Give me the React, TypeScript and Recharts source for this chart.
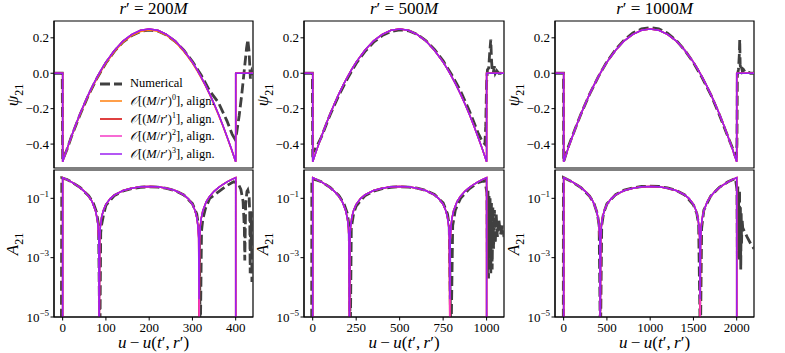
import React from 'react'
import { LineChart, Line, XAxis, YAxis, ReferenceArea } from 'recharts'

const SERIF = '"Liberation Serif", "DejaVu Serif", "Times New Roman", serif'
const NUM_COLOR = '#404040'
const ORDER_COLORS = ['#ff7f0e', '#d40000', '#f53ac6', '#9b1ff0']

// analytic waveform, u given as a fraction of the window (0..1)
const psiFrac = [0, 0.025, 0.05, 0.075, 0.1, 0.125, 0.15, 0.175, 0.2, 0.225, 0.25, 0.3, 0.35, 0.4, 0.45, 0.5,
  0.55, 0.6, 0.65, 0.7, 0.75, 0.775, 0.8, 0.825, 0.85, 0.875, 0.9, 0.925, 0.95, 0.975, 1]
const psiAnalytic = [-0.5, -0.427, -0.358, -0.292, -0.23, -0.172, -0.118, -0.067, -0.02, 0.023, 0.063, 0.13, 0.183, 0.22, 0.243, 0.25,
  0.243, 0.22, 0.183, 0.13, 0.063, 0.023, -0.02, -0.067, -0.118, -0.172, -0.23, -0.292, -0.358, -0.427, -0.5]
// order 0 sits slightly low for r' = 200M
const psiOrder0Near = [-0.5, -0.43, -0.362, -0.297, -0.236, -0.178, -0.124, -0.073, -0.027, 0.016, 0.056, 0.123, 0.176, 0.213, 0.236, 0.244,
  0.237, 0.214, 0.177, 0.124, 0.057, 0.017, -0.026, -0.072, -0.123, -0.177, -0.235, -0.296, -0.361, -0.43, -0.5]

const ampFrac = [0, 0.025, 0.05, 0.075, 0.1, 0.125, 0.15, 0.17, 0.19, 0.2, 0.205, 0.209, 0.2113, 0.214, 0.218, 0.225, 0.235, 0.25, 0.275, 0.3, 0.35, 0.4, 0.45,
  0.5,
  0.55, 0.6, 0.65, 0.7, 0.725, 0.75, 0.765, 0.775, 0.782, 0.786, 0.7887, 0.791, 0.795, 0.8, 0.81, 0.83, 0.85, 0.875, 0.9, 0.925, 0.95, 0.975, 1]
const ampAnalytic = [0.5, 0.427, 0.358, 0.292, 0.23, 0.172, 0.118, 0.077, 0.038, 0.02, 0.011, 0.004, 1e-6, 0.0046, 0.0114, 0.023, 0.039, 0.063, 0.098, 0.13, 0.183, 0.22, 0.243,
  0.25,
  0.243, 0.22, 0.183, 0.13, 0.098, 0.063, 0.039, 0.023, 0.0114, 0.0046, 1e-6, 0.004, 0.011, 0.02, 0.038, 0.077, 0.118, 0.172, 0.23, 0.292, 0.358, 0.427, 0.5]
const ampOrder3 = [0.5, 0.427, 0.358, 0.292, 0.23, 0.172, 0.118, 0.077, 0.038, 0.02, 0.011, 0.004, 1e-6, 0.0046, 0.0114, 0.023, 0.039, 0.063, 0.098, 0.13, 0.183, 0.22, 0.243,
  0.25,
  0.243, 0.22, 0.183, 0.13, 0.098, 0.063, 0.039, 0.023, 0.0114, 0.0046, 4e-5, 0.004, 0.011, 0.02, 0.038, 0.077, 0.118, 0.172, 0.23, 0.292, 0.358, 0.427, 0.5]

// numerical waveform, r' = 200M
const num200U = [-20, -1, 0, 10, 20, 40, 60, 80, 100, 120, 140, 160, 180, 200, 220, 240, 260, 280, 300, 320,
  340, 360, 380, 392, 398, 402, 408, 414, 420, 425, 428, 431, 434, 437, 440]
const num200Psi = [0, 0, -0.49, -0.43, -0.36, -0.235, -0.122, -0.025, 0.058, 0.125, 0.177, 0.213, 0.236, 0.244, 0.238, 0.216, 0.18, 0.13, 0.066, -0.01,
  -0.1, -0.165, -0.27, -0.345, -0.37, -0.34, -0.24, -0.12, 0.02, 0.14, 0.19, 0.12, -0.03, 0.01, -0.01]
const num200AmpU = [-3, -2, 10, 20, 40, 60, 70, 78, 83, 86, 88, 90, 95, 100, 120, 140, 160, 180, 200, 220,
  240, 260, 280, 300, 310, 316, 318, 321, 324, 330, 340, 360, 380, 395, 405, 412, 417, 420, 421, 423,
  426, 428, 431, 432.5, 433.5, 434.5, 435.5, 436.5, 437.5, 438.5, 440]
const num200Amp = [1e-6, 0.49, 0.43, 0.36, 0.235, 0.122, 0.075, 0.035, 0.013, 1e-6, 0.007, 0.013, 0.03, 0.058, 0.125, 0.177, 0.213, 0.236, 0.244, 0.238,
  0.216, 0.18, 0.13, 0.066, 0.03, 0.008, 1e-6, 0.008, 0.02, 0.045, 0.1, 0.165, 0.27, 0.36, 0.33, 0.2, 0.08, 0.01, 8e-4, 0.06,
  0.17, 0.19, 0.12, 0.03, 3e-4, 0.04, 0.002, 0.035, 1.5e-4, 0.02, 0.001]

// numerical waveform, r' = 500M
const num500U = [-50, -2, 0, 25, 50, 100, 150, 200, 250, 300, 350, 400, 450, 500, 550, 600, 650, 700, 750, 800,
  850, 900, 950, 975, 990, 995, 1000, 1005, 1012, 1018, 1024, 1028, 1032, 1038, 1044, 1050, 1058, 1070, 1100]
const num500Psi = [0, 0, -0.45, -0.41, -0.36, -0.235, -0.125, -0.03, 0.055, 0.122, 0.175, 0.213, 0.236, 0.245, 0.24, 0.22, 0.185, 0.135, 0.07, -0.01,
  -0.1, -0.21, -0.335, -0.385, -0.4, -0.3, -0.05, 0.02, 0.03, 0.12, 0.19, 0.08, 0.02, 0, 0.04, 0, 0.015, 0, 0]
const num500AmpU = [-6, -5, 25, 50, 100, 150, 180, 200, 210, 216, 222, 235, 250, 300, 350, 400, 450, 500, 550, 600,
  650, 700, 750, 775, 785, 795, 805, 820, 850, 900, 950, 990, 1002, 1005, 1008, 1011, 1014, 1017, 1020, 1024,
  1028, 1032, 1036, 1040, 1045, 1050, 1055, 1062, 1070, 1080, 1090, 1100]
const num500Amp = [1e-6, 0.45, 0.41, 0.36, 0.235, 0.125, 0.065, 0.03, 0.01, 1e-6, 0.01, 0.03, 0.055, 0.122, 0.175, 0.213, 0.236, 0.245, 0.24, 0.22,
  0.185, 0.135, 0.07, 0.03, 0.012, 1e-6, 0.012, 0.04, 0.1, 0.21, 0.335, 0.4, 0.15, 3e-4, 0.18, 2e-4, 0.12, 5e-4, 0.1, 3e-4,
  0.07, 4e-4, 0.05, 0.002, 0.04, 0.003, 0.03, 0.005, 0.02, 0.006, 0.012, 0.005]

// numerical waveform, r' = 1000M
const num1000U = [-100, -2, 0, 50, 100, 200, 300, 400, 500, 600, 700, 800, 900, 1000, 1100, 1200, 1300, 1400, 1500, 1600,
  1700, 1800, 1900, 1950, 1985, 1995, 2003, 2008, 2020, 2030, 2035, 2040, 2048, 2056, 2066, 2080, 2100, 2130, 2160, 2200]
const num1000Psi = [0, 0, -0.5, -0.42, -0.355, -0.23, -0.118, -0.02, 0.065, 0.133, 0.188, 0.227, 0.25, 0.258, 0.25, 0.226, 0.186, 0.13, 0.06, -0.025,
  -0.12, -0.235, -0.36, -0.42, -0.47, -0.47, -0.4, -0.01, 0.02, 0.1, 0.19, 0.05, 0.02, 0.035, 0.01, 0.02, 0.005, 0.008, 0, 0]
const num1000AmpU = [-4, -3, 100, 200, 300, 350, 390, 410, 425, 440, 460, 500, 600, 700, 800, 900, 1000, 1100, 1200, 1300,
  1400, 1500, 1540, 1560, 1580, 1595, 1620, 1700, 1800, 1900, 1985, 2003, 2008, 2013, 2018, 2023, 2028, 2033, 2038, 2043,
  2047, 2052, 2056, 2062, 2070, 2120, 2160, 2200]
const num1000Amp = [1e-6, 0.5, 0.355, 0.23, 0.118, 0.068, 0.03, 0.012, 1e-6, 0.012, 0.03, 0.065, 0.133, 0.188, 0.227, 0.25, 0.258, 0.25, 0.226, 0.186,
  0.13, 0.06, 0.03, 0.013, 1e-6, 0.01, 0.04, 0.12, 0.235, 0.36, 0.47, 0.2, 0.001, 0.25, 0.002, 0.15, 8e-4, 0.19, 0.001, 0.05,
  4e-4, 0.035, 0.003, 0.02, 0.01, 0.005, 0.003, 0.002]

const psiTicks = [-0.4, -0.2, 0, 0.2]
const ampTicks = [1e-5, 1e-3, 1e-1]
const PSI_DOMAIN = [-0.535, 0.295]
const AMP_DOMAIN = [1e-5, 0.9]

const legendLabels = ['Numerical', '0', '1', '2', '3']

type Pt = { u: number; v: number }
const zip = (us: number[], vs: number[]): Pt[] => us.map((u, i) => ({ u, v: vs[i] }))

const psiRows = (span: number, x: number[], vals: number[]): Pt[] => [
  { u: x[0], v: 0 },
  { u: 0, v: 0 },
  ...psiFrac.map((f, i) => ({ u: f * span, v: vals[i] })),
  { u: span, v: 0 },
  { u: x[1], v: 0 }
]
const ampRows = (span: number, vals: number[]): Pt[] => [
  { u: 0, v: 1e-6 },
  ...ampFrac.map((f, i) => ({ u: f * span, v: vals[i] })),
  { u: span, v: 1e-6 }
]

const panels = [
  {
    label: '200', span: 400, xDomain: [-20, 440], xTicks: [0, 100, 200, 300, 400],
    plotLeft: 54, plotWidth: 199,
    numPsi: zip(num200U, num200Psi), numAmp: zip(num200AmpU, num200Amp), order0: psiOrder0Near
  },
  {
    label: '500', span: 1000, xDomain: [-50, 1100], xTicks: [0, 250, 500, 750, 1000],
    plotLeft: 304, plotWidth: 200,
    numPsi: zip(num500U, num500Psi), numAmp: zip(num500AmpU, num500Amp), order0: psiAnalytic
  },
  {
    label: '1000', span: 2000, xDomain: [-100, 2200], xTicks: [0, 500, 1000, 1500, 2000],
    plotLeft: 555, plotWidth: 199,
    numPsi: zip(num1000U, num1000Psi), numAmp: zip(num1000AmpU, num1000Amp), order0: psiAnalytic
  }
]

const TOP_ROW = { top: 21, height: 147 }
const BOTTOM_ROW = { top: 170, height: 147 }
const Y_AXIS_W = 50
const PAD = 4
const X_AXIS_H = 16

const tickStyle = { fill: '#000', fontSize: 13, fontFamily: SERIF }

const LogTick = (props: any) => {
  const { x, y, payload } = props
  const exp = Math.round(Math.log10(payload.value))
  return (
    <text x={x} y={y} dy={4.5} textAnchor="end" fill="#000" fontFamily={SERIF} fontSize={13}>
      <tspan>10</tspan>
      <tspan dy={-6} fontSize={9}>{(exp < 0 ? '\u2212' : '') + Math.abs(exp)}</tspan>
    </text>
  )
}

const fmtPsi = (v: number) => v.toFixed(1).replace('-', '\u2212')

type Series = { data: Pt[]; color: string; width: number; dash?: string }

function Panel({ left, top, width, height, xDomain, xTicks, log, series }: {
  left: number; top: number; width: number; height: number
  xDomain: number[]; xTicks: number[]; log: boolean; series: Series[]
}) {
  const yDomain = log ? AMP_DOMAIN : PSI_DOMAIN
  return (
    <div style={{ position: 'absolute', left: left - Y_AXIS_W, top: top - PAD }}>
      <LineChart
        width={Y_AXIS_W + width + PAD}
        height={PAD + height + (log ? X_AXIS_H : 0) + PAD}
        margin={{ top: PAD, right: PAD, bottom: PAD, left: 0 }}
      >
        <XAxis
          type="number"
          dataKey="u"
          domain={xDomain}
          ticks={xTicks}
          allowDataOverflow
          hide={!log}
          height={X_AXIS_H}
          tick={tickStyle}
          tickSize={3.5}
          tickMargin={2}
          axisLine={{ stroke: '#000' }}
          tickLine={{ stroke: '#000' }}
        />
        {log ? (
          <YAxis
            type="number"
            scale="log"
            domain={yDomain}
            ticks={ampTicks}
            allowDataOverflow
            width={Y_AXIS_W}
            tick={<LogTick />}
            tickSize={3.5}
            tickMargin={1.5}
            axisLine={{ stroke: '#000' }}
            tickLine={{ stroke: '#000' }}
          />
        ) : (
          <YAxis
            type="number"
            domain={yDomain}
            ticks={psiTicks}
            allowDataOverflow
            width={Y_AXIS_W}
            tick={tickStyle}
            tickFormatter={fmtPsi}
            tickSize={3.5}
            tickMargin={1.5}
            axisLine={{ stroke: '#000' }}
            tickLine={{ stroke: '#000' }}
          />
        )}
        {series.map((s, i) => (
          <Line
            key={i}
            data={s.data}
            dataKey="v"
            type="linear"
            dot={false}
            activeDot={false}
            stroke={s.color}
            strokeWidth={s.width}
            strokeDasharray={s.dash}
            isAnimationActive={false}
          />
        ))}
        <ReferenceArea
          x1={xDomain[0]}
          x2={xDomain[1]}
          y1={yDomain[0]}
          y2={yDomain[1]}
          fill="none"
          stroke="#000"
          strokeWidth={1.2}
          ifOverflow="visible"
        />
      </LineChart>
    </div>
  )
}

const OrderLabel = ({ n }: { n: string }) => (
  <span>
    <i>𝒪</i>[(<i>M</i>/<i>r</i>′)<sup style={{ fontSize: 8 }}>{n}</sup>], align.
  </span>
)

export default function App() {
  return (
    <div style={{ position: 'absolute', left: 0, top: 0, width: 785, height: 353, background: '#fff', fontFamily: SERIF, color: '#000' }}>
      {panels.map((p) => {
        const x = [p.xDomain[0], p.xDomain[1]]
        const topSeries: Series[] = [
          { data: p.numPsi, color: NUM_COLOR, width: 2.8, dash: '10 4' },
          { data: psiRows(p.span, x, p.order0), color: ORDER_COLORS[0], width: 1.5 },
          { data: psiRows(p.span, x, psiAnalytic), color: ORDER_COLORS[1], width: 1.5 },
          { data: psiRows(p.span, x, psiAnalytic), color: ORDER_COLORS[2], width: 1.5 },
          { data: psiRows(p.span, x, psiAnalytic), color: ORDER_COLORS[3], width: 1.5 }
        ]
        const bottomSeries: Series[] = [
          { data: p.numAmp, color: NUM_COLOR, width: 2.8, dash: '10 4' },
          { data: ampRows(p.span, ampAnalytic), color: ORDER_COLORS[0], width: 1.5 },
          { data: ampRows(p.span, ampAnalytic), color: ORDER_COLORS[1], width: 1.5 },
          { data: ampRows(p.span, ampAnalytic), color: ORDER_COLORS[2], width: 1.5 },
          { data: ampRows(p.span, ampOrder3), color: ORDER_COLORS[3], width: 1.5 }
        ]
        return (
          <React.Fragment key={p.label}>
            <div style={{ position: 'absolute', left: p.plotLeft, width: p.plotWidth, top: 0, lineHeight: '18px', fontSize: 17, textAlign: 'center', whiteSpace: 'nowrap' }}>
              <i>r</i>′ = {p.label}<i>M</i>
            </div>
            <Panel left={p.plotLeft} top={TOP_ROW.top} width={p.plotWidth} height={TOP_ROW.height}
              xDomain={p.xDomain} xTicks={p.xTicks} log={false} series={topSeries} />
            <Panel left={p.plotLeft} top={BOTTOM_ROW.top} width={p.plotWidth} height={BOTTOM_ROW.height}
              xDomain={p.xDomain} xTicks={p.xTicks} log={true} series={bottomSeries} />
            <div style={{ position: 'absolute', left: p.plotLeft - 38.5, top: TOP_ROW.top + TOP_ROW.height / 2, transform: 'translate(-50%, -50%) rotate(-90deg)', fontSize: 17, whiteSpace: 'nowrap', lineHeight: '18px' }}>
              <i>ψ</i><sub style={{ fontSize: 12 }}>21</sub>
            </div>
            <div style={{ position: 'absolute', left: p.plotLeft - 38.5, top: BOTTOM_ROW.top + BOTTOM_ROW.height / 2, transform: 'translate(-50%, -50%) rotate(-90deg)', fontSize: 17, whiteSpace: 'nowrap', lineHeight: '18px' }}>
              <i>A</i><sub style={{ fontSize: 12 }}>21</sub>
            </div>
            <div style={{ position: 'absolute', left: p.plotLeft, width: p.plotWidth, top: 335, lineHeight: '16px', fontSize: 17, textAlign: 'center', whiteSpace: 'nowrap' }}>
              <i>u</i>{'\u2009−\u2009'}<i>u</i>(<i>t</i>′,{'\u2009'}<i>r</i>′)
            </div>
          </React.Fragment>
        )
      })}
      {legendLabels.map((lab, i) => (
        <div key={lab} style={{ position: 'absolute', left: 98, top: 83.5 + i * 17.6 - 9, height: 18, display: 'flex', alignItems: 'center', fontSize: 12.5, whiteSpace: 'nowrap' }}>
          <svg width={26} height={10} style={{ marginRight: 6 }}>
            {i === 0 ? (
              <line x1={2} y1={5} x2={24} y2={5} stroke={NUM_COLOR} strokeWidth={2.8} strokeDasharray="10 4" />
            ) : (
              <line x1={2} y1={5} x2={24} y2={5} stroke={ORDER_COLORS[i - 1]} strokeWidth={1.5} />
            )}
          </svg>
          {i === 0 ? <span>Numerical</span> : <OrderLabel n={lab} />}
        </div>
      ))}
    </div>
  )
}
